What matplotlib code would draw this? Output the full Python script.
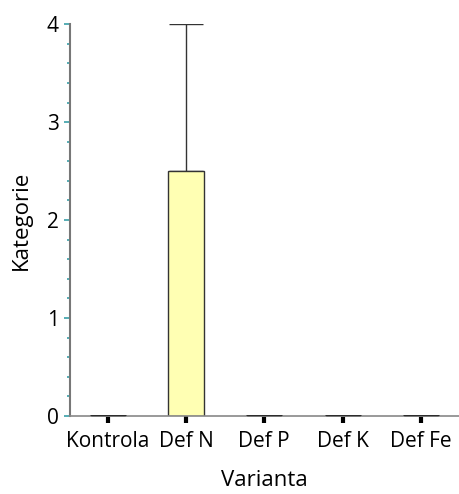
import matplotlib.pyplot as plt
import numpy as np

# data
categories = ["Kontrola", "Def N", "Def P", "Def K", "Def Fe"]
values = [0, 2.5, 0, 0, 0]
errors_up = [0, 1.5, 0, 0, 0]

plt.rcParams['font.family'] = ['Open Sans', 'DejaVu Sans']

fig = plt.figure(figsize=(4.6, 4.94), dpi=100)
ax = fig.add_axes([0.152, 0.158, 0.845, 0.793])

x_axis = np.arange(len(categories))
width = 0.46

ax.bar(x_axis, values, width, color='#ffffb3', edgecolor='#333333', linewidth=1.0, zorder=2)
# zero-height bars show as dark dashes on the axis
for xi, v in zip(x_axis, values):
    if v == 0:
        ax.plot([xi - width / 2, xi + width / 2], [0, 0], color='#222222', lw=2, zorder=3,
                solid_capstyle='butt')

ax.errorbar(x_axis, values, yerr=[np.zeros(len(values)), errors_up], fmt='none',
            ecolor='#333333', elinewidth=1.0, capsize=12, capthick=1.0, zorder=1)

ax.set_xlim(-0.48, 4.48)
ax.set_ylim(0, 4)
ax.set_yticks([0, 1, 2, 3, 4])
ax.set_yticks(np.arange(0, 4.01, 0.2), minor=True)
ax.set_xticks(x_axis)
ax.set_xticklabels(categories)

for s in ['top', 'right']:
    ax.spines[s].set_visible(False)
ax.spines['left'].set_color('#777777')
ax.spines['bottom'].set_color('#888888')
ax.spines['left'].set_linewidth(1.5)
ax.spines['bottom'].set_linewidth(1.2)

ax.tick_params(axis='y', which='major', length=4, width=1.2, color='#3a9fa8', labelsize=15, pad=4)
ax.tick_params(axis='y', which='minor', length=2, width=1.2, color='#3a9fa8')
ax.tick_params(axis='x', which='major', length=5, width=3, color='black', labelsize=15, pad=6)

ax.set_xlabel('Varianta', fontsize=16, labelpad=13)
ax.set_ylabel('Kategorie', fontsize=16, labelpad=11)

fig.savefig('out.png', dpi=100)
